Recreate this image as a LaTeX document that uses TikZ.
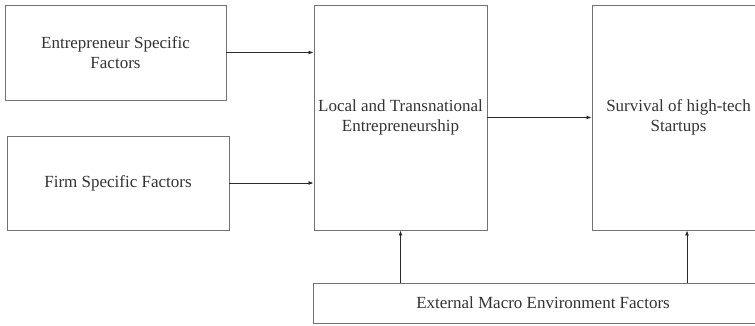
\documentclass[tikz,border=0pt]{standalone}
\usepackage{fontspec}
\setmainfont{Liberation Serif}
\usetikzlibrary{arrows.meta}
\definecolor{boxgray}{HTML}{737373}
\definecolor{textgray}{HTML}{333333}
\definecolor{linegray}{HTML}{2A2A2A}
\begin{document}
\begin{tikzpicture}[x=1pt,y=-1pt,
  box/.style={draw=boxgray, line width=0.95pt, rectangle, inner sep=0pt,
    align=center, text=textgray, font=\fontsize{17}{20}\selectfont},
  link/.style={draw=linegray, line width=0.8pt, -{Latex[length=5pt,width=4pt]}}]
  \useasboundingbox[fill=white] (0,0) rectangle (755,326);
  \clip (0,0) rectangle (755,326);

  % input factor boxes
  \node[box, minimum width=221pt, minimum height=95pt] (ent) at (115.5,52.5)
    {Entrepreneur Specific\\Factors};
  \node[box, minimum width=222pt, minimum height=94pt] (firm) at (118,183)
    {Firm Specific Factors};

  % central and outcome boxes
  \node[box, minimum width=173pt, minimum height=225pt] (local) at (400.5,117.5)
    {Local and Transnational\\Entrepreneurship};
  \node[box, minimum width=173pt, minimum height=225pt] (surv) at (678.5,117.5)
    {Survival of high-tech\\Startups};

  % environment bar along the bottom
  \node[box, minimum width=460pt, minimum height=40pt] (ext) at (543,303)
    {External Macro Environment Factors};

  % connectors
  \draw[link] (ent.east) -- (ent.east -| local.west);
  \draw[link] (firm.east) -- (firm.east -| local.west);
  \draw[link] (local.east) -- (surv.west);
  \draw[link] (ext.north -| local.south) -- (local.south);
  \coordinate (tap) at (687,0);
  \draw[link] (tap |- ext.north) -- (tap |- surv.south);
\end{tikzpicture}
\end{document}
